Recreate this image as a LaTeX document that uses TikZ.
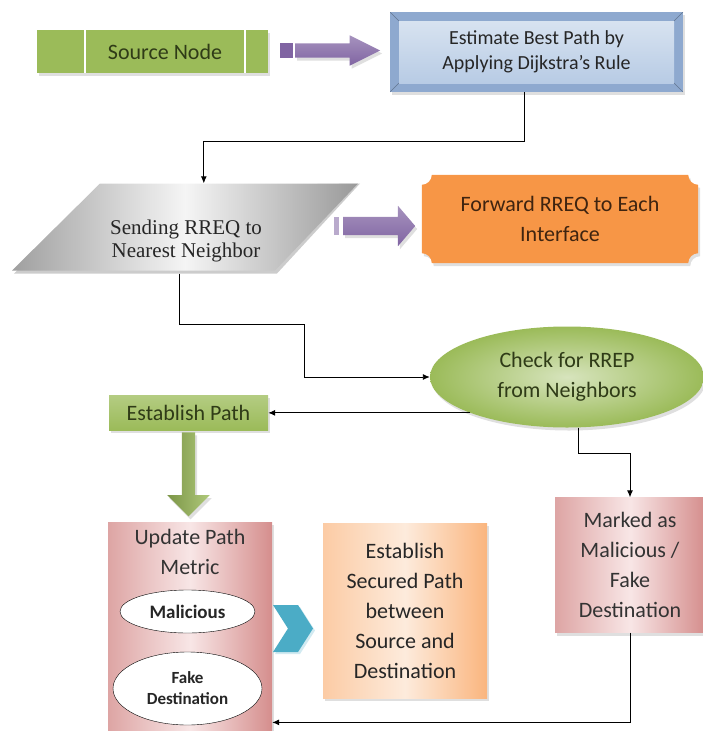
\documentclass[tikz,border=0pt]{standalone}
\usepackage{fontspec}
\setmainfont{Carlito}
\newfontfamily\timesfont{Liberation Serif}
\usetikzlibrary{positioning,calc,backgrounds,shadows,arrows.meta,shapes.geometric,shapes.arrows,shapes.symbols}

\definecolor{srcgreen}{HTML}{9BBB59}
\definecolor{lightgreen}{HTML}{D7E4BD}
\definecolor{textgreen}{HTML}{2F3B17}
\definecolor{purplearrow}{HTML}{8064A2}
\definecolor{bluelight}{HTML}{DCE6F2}
\definecolor{bluemid}{HTML}{B3C8E3}
\definecolor{bluedark}{HTML}{8EA9CF}
\definecolor{orangebox}{HTML}{F79646}
\definecolor{orangetext}{HTML}{3F2410}
\definecolor{pinkdark}{HTML}{D58E8D}
\definecolor{pinklight}{HTML}{F8E6E6}
\definecolor{peach}{HTML}{FAB57E}
\definecolor{peachlight}{HTML}{FDEBDC}
\definecolor{tealarrow}{HTML}{4BACC6}

\begin{document}
\begin{tikzpicture}[
x=1pt, y=1pt,
>={Latex[length=7pt,width=6pt]},
link/.style={->, draw=black, line width=0.9pt},
boxtext/.style={font=\fontsize{22}{30}\selectfont, align=center},
softshadow/.style={drop shadow={shadow xshift=2pt, shadow yshift=-3pt, opacity=0.25, fill=black!50}},
srctext/.style={boxtext, text=textgreen, inner sep=0pt},
greenbox/.style={rectangle, boxtext, text=textgreen, top color=srcgreen!75!white, bottom color=srcgreen, softshadow},
estbox/.style={rectangle, font=\fontsize{20}{25}\selectfont, align=center, text=black!85, fill=bluedark, softshadow,
  path picture={
    \shade[top color=bluelight, bottom color=bluemid]
      ($(path picture bounding box.north west)+(9,-9)$) rectangle ($(path picture bounding box.south east)+(-9,9)$);
    \draw[bluedark!70!black, thin] (path picture bounding box.north west) -- ++(9,-9)
      (path picture bounding box.north east) -- ++(-9,-9)
      (path picture bounding box.south west) -- ++(9,9)
      (path picture bounding box.south east) -- ++(-9,9);
  }},
sendbox/.style={rectangle, minimum width=348, minimum height=90, inner sep=0pt,
  path picture={
    \fill[black!20] ($(path picture bounding box.north west)+(90,-3)$) -- (path picture bounding box.north east)
      -- ($(path picture bounding box.south east)+(-83,0)$) -- ($(path picture bounding box.south west)+(2,0)$) -- cycle;
    \shade[left color=gray!75, right color=gray!80, middle color=gray!8]
      ($(path picture bounding box.north west)+(88,0)$) -- ($(path picture bounding box.north east)+(-2,0)$)
      -- ($(path picture bounding box.south east)+(-85,3)$) -- ($(path picture bounding box.south west)+(0,3)$) -- cycle;
  }},
sendtext/.style={font=\timesfont\fontsize{21}{23}\selectfont, align=center, text=black!85},
purpleblock/.style={single arrow, top color=purplearrow!70!white, bottom color=purplearrow, softshadow},
greenarrow/.style={single arrow, shape border rotate=270, left color=srcgreen!80!black, right color=srcgreen!80, softshadow},
fwdtext/.style={rectangle, boxtext, text=orangetext, minimum width=276, minimum height=88},
chkbox/.style={ellipse, boxtext, text=textgreen, inner color=lightgreen, outer color=srcgreen, softshadow},
pinkbox/.style={rectangle, boxtext, text=black!80, left color=pinkdark!80, right color=pinkdark, middle color=pinklight, softshadow},
peachbox/.style={rectangle, boxtext, text=black!85, left color=peach!70!white, right color=peach, middle color=peachlight, softshadow},
tagellipse/.style={ellipse, draw=black, thin, fill=white, text=black!85, align=center, font=\bfseries\fontsize{19}{22}\selectfont},
chevron/.style={signal, signal from=west, signal to=east, signal pointer angle=115, inner sep=0pt,
  minimum width=40, minimum height=47, fill=tealarrow, drop shadow={shadow xshift=2pt, shadow yshift=-2pt, fill=tealarrow!25, opacity=1}},
]
\useasboundingbox (0,0) rectangle (703,-731);

%Source node
\fill[srcgreen, softshadow] (37,-30) rectangle (268,-73);
\node[srctext, minimum width=160, minimum height=43] (src) at (165,-51.5) {Source Node};
\draw[white, line width=2.5pt] (src.north west) -- (src.south west) (src.north east) -- (src.south east);

\fill[purplearrow] (280,-43) rectangle (293,-58);
\node[purpleblock, anchor=tail, minimum height=85, inner sep=7pt, single arrow head extend=8pt, single arrow tip angle=53] (pa1) at (295,-50.5) {};

%Dijkstra
\node[estbox, minimum width=293, minimum height=80] (est) at (536.5,-52) {Estimate Best Path by\\Applying Dijkstra’s Rule};

%RREQ
\node[sendbox] (send) at (186,-228.5) {};
\node[sendtext] (sendtxt) at ([yshift=-12pt]send.center) {Sending RREQ to\\Nearest Neighbor};

\fill[purplearrow!55] (334,-217) rectangle (339,-235);
\node[purpleblock, anchor=tail, minimum height=72, inner sep=9pt, single arrow head extend=11pt, single arrow tip angle=99] (pa2) at (343,-226) {};

\node[fwdtext] (fwd) at (560,-219) {Forward RREQ to Each\\Interface};
\begin{scope}[on background layer]
\fill[orangebox, softshadow] ($(fwd.north west)+(10,0)$) -- ($(fwd.north east)+(-10,0)$)
  arc[start angle=180, end angle=270, radius=10] -- ($(fwd.south east)+(0,10)$)
  arc[start angle=90, end angle=180, radius=10] -- ($(fwd.south west)+(10,0)$)
  arc[start angle=0, end angle=90, radius=10] -- ($(fwd.north west)+(0,-10)$)
  arc[start angle=270, end angle=360, radius=10] -- cycle;
\end{scope}

%RREP
\node[chkbox, minimum width=274, minimum height=101] (chk) at (567,-377) {Check for RREP\\from Neighbors};
\node[greenbox, minimum width=159, minimum height=35] (estpath) at (188.5,-412.5) {Establish Path};
\node[greenarrow, anchor=tail, minimum height=84, inner sep=6.5pt, single arrow head extend=14.5pt] (ga) at ([yshift=-2pt]estpath.south) {};

%Metric
\node[pinkbox, minimum width=164, minimum height=209, anchor=north] (upd) at (190,-522) {};
\node[boxtext, text=black!80, below=4pt of upd.north] (updtxt) {Update Path\\Metric};
\node[tagellipse, minimum width=135, minimum height=43] (mal) at (187.5,-611.5) {Malicious};
\node[tagellipse, minimum width=149, minimum height=73, font=\bfseries\fontsize{17}{21}\selectfont] (fake) at (187.5,-688.5) {Fake\\Destination};

\node[chevron] (chev) at (293,-628.5) {};
\node[peachbox, minimum width=164, minimum height=175] (sec) at (405,-610.5) {Establish\\Secured Path\\between\\Source and\\Destination};

\node[pinkbox, minimum width=150, minimum height=135] (mark) at (630,-565) {Marked as\\Malicious /\\Fake\\Destination};

%Links
\draw[link] ([xshift=-12.5pt]est.south) -- ++(0,-49) -| ([xshift=192pt]send.north west);
\draw[link] ([xshift=168pt]send.south west) |- ++(125,-51) |- (chk.west);
\draw[link] (chk.south west) -- (chk.south west -| estpath.east);
\draw[link] ([xshift=11pt]chk.south) -- ++(0,-26) -| (mark.north);
\draw[link] (mark.south) |- ([yshift=9pt]upd.south east);
\end{tikzpicture}
\end{document}
